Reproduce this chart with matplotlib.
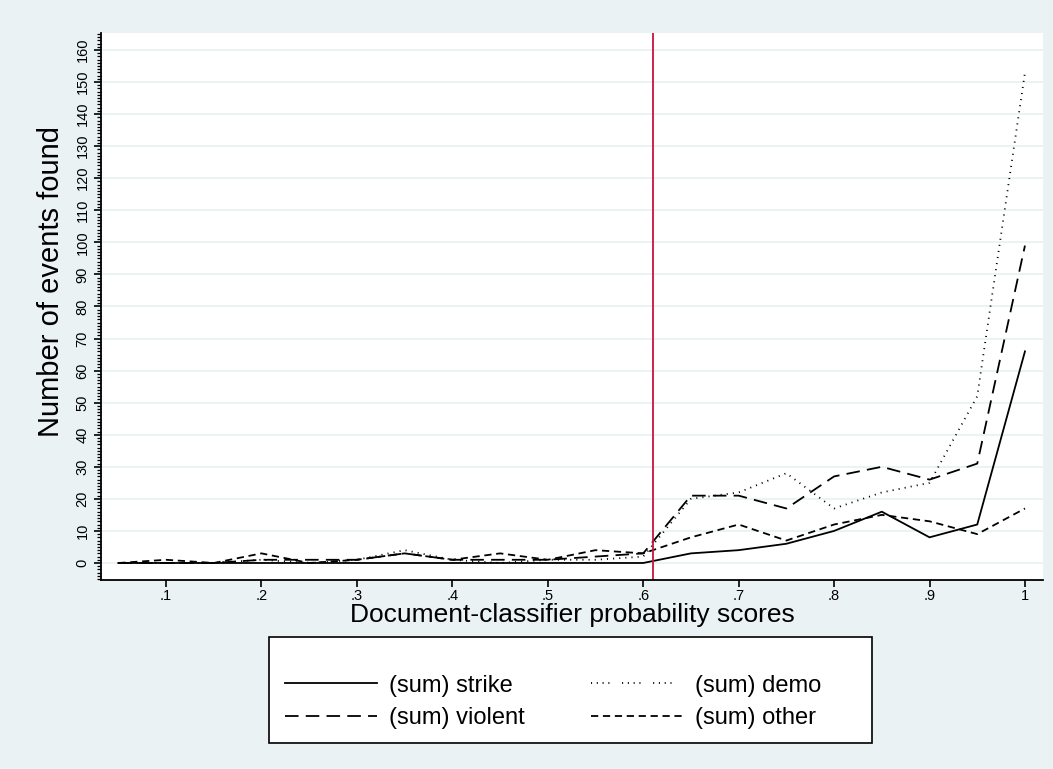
import matplotlib
matplotlib.use("Agg")
import matplotlib.pyplot as plt
from matplotlib.lines import Line2D
from matplotlib.patches import Rectangle
from matplotlib.ticker import MultipleLocator

plt.rcParams['font.family'] = ['Liberation Sans', 'DejaVu Sans']

# probability score bins
scores = [0.05, 0.10, 0.15, 0.20, 0.25, 0.30, 0.35, 0.40, 0.45, 0.50,
          0.55, 0.60, 0.65, 0.70, 0.75, 0.80, 0.85, 0.90, 0.95, 1.00]

strike = [0, 0, 0, 0, 0, 0, 0, 0, 0, 0, 0, 0, 3, 4, 6, 10, 16, 8, 12, 66]
violent = [0, 0, 0, 1, 1, 1, 3, 1, 1, 1, 2, 3, 21, 21, 17, 27, 30, 26, 31, 99]
demo = [0, 0, 0, 1, 0, 1, 4, 1, 0, 1, 1, 2, 20, 22, 28, 17, 22, 25, 52, 153]
other = [0, 1, 0, 3, 0, 1, 3, 1, 3, 1, 4, 3, 8, 12, 7, 12, 15, 13, 9, 17]

labels = ["(sum) strike", "(sum) violent", "(sum) demo", "(sum) other"]
xticks = [0.1, 0.2, 0.3, 0.4, 0.5, 0.6, 0.7, 0.8, 0.9, 1.0]
xticklabels = [".1", ".2", ".3", ".4", ".5", ".6", ".7", ".8", ".9", "1"]
cutoff = 0.61

bg = "#EAF2F3"
W, H = 1053, 769

fig = plt.figure(figsize=(10.53, 7.69), dpi=100, facecolor=bg)
ax = fig.add_axes([0.0956, 0.2458, 0.895, 0.7113])
ax.set_facecolor("white")

lw = 1.3
long_dash = (7.5, 4)
short_dash = (4, 2.6)
dot = (0.6, 2.8)
ax.plot(scores, strike, color="black", lw=lw)
ax.plot(scores, violent, color="black", lw=lw, dashes=long_dash)
ax.plot(scores, demo, color="black", lw=lw, dashes=dot)
ax.plot(scores, other, color="black", lw=lw, dashes=short_dash)

ax.axvline(cutoff, color="#C8143C", lw=1.3)

ax.set_xlim(0.0315, 1.019)
ax.set_ylim(-5.3, 165.3)

ax.set_xticks(xticks)
ax.set_xticklabels(xticklabels, fontsize=10.5)
ax.yaxis.set_major_locator(MultipleLocator(10))
ax.yaxis.set_minor_locator(MultipleLocator(1))
for t in ax.get_yticklabels():
    t.set_rotation(90)
    t.set_va("center")
    t.set_fontsize(10.5)
ax.tick_params(axis="both", which="major", length=5, width=1.2, color="black")
ax.tick_params(axis="y", which="minor", length=3, width=0.9)
ax.tick_params(axis="x", which="major", pad=1.5)
ax.tick_params(axis="y", which="major", pad=3)

ax.grid(axis="y", which="major", color=bg, lw=1.3)
ax.set_axisbelow(True)

for s in ["top", "right"]:
    ax.spines[s].set_visible(False)
for s in ["left", "bottom"]:
    ax.spines[s].set_linewidth(1.3)

ax.set_xlabel("Document-classifier probability scores", fontsize=19, labelpad=0)
ax.set_ylabel("Number of events found", fontsize=21)
ax.yaxis.set_label_coords(-0.038, 0.545)

# legend box drawn by hand (Stata-style padding)
x0, x1, y0, y1 = 269, 872, 637, 743
fig.add_artist(Rectangle((x0 / W, 1 - y1 / H), (x1 - x0) / W, (y1 - y0) / H,
                         transform=fig.transFigure, facecolor="white",
                         edgecolor="black", lw=1.2))
handles = [
    Line2D([], [], color="black", lw=lw),
    Line2D([], [], color="black", lw=lw, dashes=long_dash),
    Line2D([], [], color="black", lw=lw, dashes=(0.6, 2.6, 0.6, 2.6, 0.6, 2.6, 0.6, 7)),
    Line2D([], [], color="black", lw=lw, dashes=short_dash),
]
fig.legend(handles=handles, labels=labels, loc="center left",
           bbox_to_anchor=(266 / W, 1 - 702 / H),
           ncol=2, fontsize=17, handlelength=3.9, columnspacing=2.8,
           frameon=False, borderpad=0.3, labelspacing=0.45, handletextpad=0.5)

fig.savefig("out.png", dpi=100, facecolor=bg)
